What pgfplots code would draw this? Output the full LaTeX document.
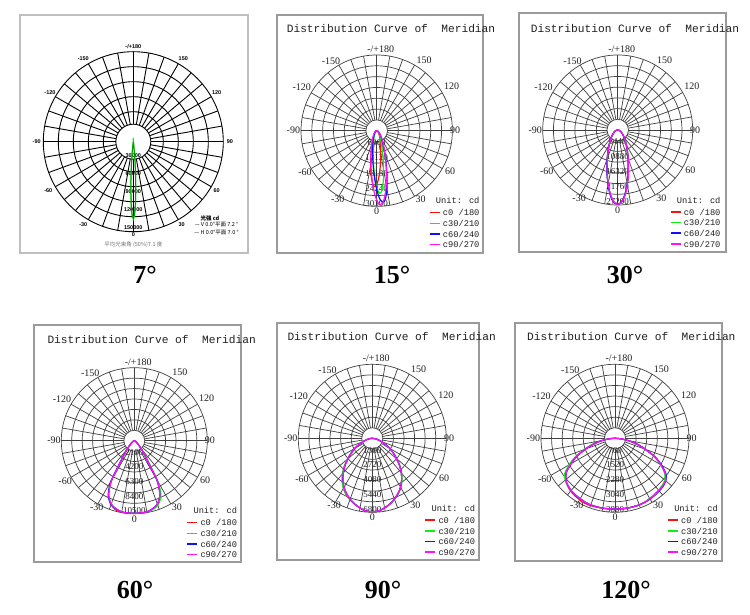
\documentclass[border=0pt]{standalone}
\usepackage{fontspec}
\setmainfont{Liberation Serif}
\newfontfamily\mono{Liberation Mono}
\newfontfamily\lsans{Liberation Sans}
\newfontfamily\cjk{Noto Sans CJK SC}
\usepackage{pgfplots}
\usepackage{pgfplotstable}
\pgfplotsset{compat=1.18}
\definecolor{gridc}{HTML}{404040}
\definecolor{framec}{HTML}{9A9A9A}
\definecolor{cR}{HTML}{FF1010}
\definecolor{cG}{HTML}{10F010}
\definecolor{cB}{HTML}{1010FF}
\definecolor{cM}{HTML}{FF10FF}
\definecolor{txt}{HTML}{202020}

% ---------- panel 1 (7 deg) ----------
\pgfplotstableread{
g I
-180 6500
-175 3000
-170 0
-15 0
-10 630
-8 4240
-6 19000
-5 34200
-4 55300
-3 80300
-2 104900
-1 123200
0 130000
1 123200
2 104900
3 80300
4 55300
5 34200
6 19000
8 4240
10 630
15 0
170 0
175 3000
180 6500
}\tabAV
\pgfplotstableread{
g I
-15 0
-10 500
-8 3600
-6 17300
-5 31800
-4 52500
-3 77500
-2 102500
-1 121000
0 128000
1 121000
2 102500
3 77500
4 52500
5 31800
6 17300
8 3600
10 500
15 0
}\tabAH
% ---------- panel 2 (15 deg) ----------
\pgfplotstableread{
g I
-92 0
-77 200
-62 470
-47 980
-32 2260
-27 3160
-22 4620
-17 7130
-14 9480
-12 11520
-10 13970
-8 16730
-6 19470
-4 21590
-2 22400
0 21590
2 19470
4 16730
6 13970
8 11520
10 9480
13 7130
18 4620
23 3160
28 2260
43 980
58 470
73 200
88 0
}\tabBR
\pgfplotstableread{
g I
-87 0
-72 175
-57 420
-42 870
-27 2040
-22 2880
-17 4270
-12 6750
-9 9190
-7 11410
-5 14210
-3 17550
-1 21070
1 23960
3 25100
5 23960
7 21070
9 17550
11 14210
13 11410
15 9190
18 6750
23 4270
28 2880
33 2040
48 870
63 420
78 175
93 0
}\tabBG
\pgfplotstableread{
g I
-85 0
-70 260
-55 630
-40 1300
-25 3000
-20 4190
-15 6120
-10 9400
-7 12440
-5 15070
-3 18210
-1 21710
1 25150
3 27790
5 28800
7 27790
9 25150
11 21710
13 18210
15 15070
17 12440
20 9400
25 6120
30 4190
35 3000
50 1300
65 630
80 260
95 0
}\tabBB
\pgfplotstableread{
g I
-87 0
-72 340
-57 810
-42 1670
-27 3800
-22 5250
-17 7530
-12 11250
-9 14520
-7 17210
-5 20280
-3 23520
-1 26560
1 28780
3 29600
5 28780
7 26560
9 23520
11 20280
13 17210
15 14520
18 11250
23 7530
28 5250
33 3800
48 1670
63 810
78 340
93 0
}\tabBM
% ---------- panel 3 (30 deg) ----------
\pgfplotstableread{
g I
-90 0
-80 400
-70 850
-60 1440
-50 2300
-45 2900
-40 3690
-35 4730
-30 6170
-25 8170
-20 11000
-15 14900
-12.5 17290
-10 19870
-7.5 22470
-5 24780
-2.5 26370
0 26960
2.5 26370
5 24780
7.5 22470
10 19870
12.5 17290
15 14900
20 11000
25 8170
30 6170
35 4730
40 3690
45 2900
50 2300
60 1440
70 850
80 400
90 0
}\tabC
\pgfplotstableread{
g I
-90 0
-80 410
-70 870
-60 1470
-50 2340
-45 2950
-40 3750
-35 4800
-30 6270
-25 8300
-20 11170
-15 15120
-12.5 17550
-10 20170
-7.5 22800
-5 25150
-2.5 26600
0 27000
2.5 26370
5 24780
7.5 22470
10 19870
12.5 17290
15 14900
20 11000
25 8170
30 6170
35 4730
40 3690
45 2900
50 2300
60 1440
70 850
80 400
90 0
}\tabCB
\pgfplotstableread{
g I
-90 0
-80 400
-70 850
-60 1440
-50 2300
-45 2900
-40 3690
-35 4730
-30 6170
-25 8170
-20 11000
-15 14900
-12.5 17290
-10 19870
-7.5 22470
-5 24780
-2.5 26370
0 26960
2.5 26500
5 25000
7.5 22700
10 20100
12.5 17500
15 15080
20 11130
25 8260
30 6240
35 4780
40 3730
45 2930
50 2320
60 1450
70 860
80 400
90 0
}\tabCM
% ---------- panel 4 (60 deg) ----------
\pgfplotstableread{
g I
-90 0
-80 30
-70 100
-60 250
-50 550
-45 880
-40 1600
-35 2800
-32 4300
-30 6500
-28 7550
-25 8750
-20 9800
-15 10300
-10 10450
-5 10480
0 10470
5 10430
10 10400
15 10150
20 9700
25 8700
28 7500
30 6500
32 4300
35 2800
40 1600
45 880
50 550
60 250
70 100
80 30
90 0
}\tabDR
\pgfplotstableread{
g I
-90 0
-80 30
-70 100
-60 250
-50 550
-45 880
-40 1600
-35 2800
-32 4300
-30 6500
-28 7500
-25 8700
-20 9700
-15 10150
-10 10400
-5 10430
0 10450
5 10430
10 10420
15 10250
20 9900
25 9000
28 7900
30 6900
32 4700
35 2950
40 1650
45 900
50 560
60 250
70 100
80 30
90 0
}\tabDG
\pgfplotstableread{
g I
-90 0
-80 30
-70 100
-60 250
-50 560
-45 900
-40 1650
-35 2900
-32 4450
-30 6650
-28 7700
-25 8850
-20 9750
-15 10150
-10 10400
-5 10430
0 10450
5 10430
10 10400
15 10150
20 9700
25 8700
28 7500
30 6500
32 4300
35 2800
40 1600
45 880
50 550
60 250
70 100
80 30
90 0
}\tabDB
\pgfplotstableread{
g I
-90 0
-80 30
-70 100
-60 250
-50 550
-45 880
-40 1600
-35 2800
-32 4300
-30 6500
-28 7500
-25 8700
-20 9700
-15 10150
-10 10400
-5 10430
0 10450
5 10430
10 10400
15 10150
20 9700
25 8700
28 7500
30 6500
32 4300
35 2800
40 1600
45 880
50 550
60 250
70 100
80 30
90 0
}\tabDM
% ---------- panel 5 (90 deg) ----------
\pgfplotstableread{
g I
-90 0
-85 150
-80 350
-75 600
-70 890
-65 1350
-60 1850
-55 2350
-50 2950
-45 3620
-40 4250
-35 4800
-30 5300
-25 5700
-20 6000
-15 6270
-10 6510
-5 6710
0 6750
5 6700
10 6500
15 6250
20 5950
25 5600
30 5200
35 4700
40 4150
45 3550
50 2900
55 2350
60 1850
65 1350
70 890
75 600
80 350
85 150
90 0
}\tabER
\pgfplotstableread{
g I
-90 0
-85 150
-80 350
-75 610
-70 900
-65 1380
-60 1900
-55 2420
-50 3000
-45 3650
-40 4280
-35 4830
-30 5320
-25 5680
-20 5980
-15 6260
-10 6500
-5 6700
0 6740
5 6700
10 6500
15 6260
20 5970
25 5630
30 5240
35 4750
40 4200
45 3600
50 2930
55 2370
60 1860
65 1350
70 890
75 600
80 350
85 150
90 0
}\tabEG
\pgfplotstableread{
g I
-90 0
-85 150
-80 350
-75 600
-70 890
-65 1350
-60 1850
-55 2350
-50 2900
-45 3550
-40 4150
-35 4700
-30 5200
-25 5600
-20 5950
-15 6250
-10 6500
-5 6700
0 6740
5 6700
10 6500
15 6250
20 5950
25 5600
30 5200
35 4700
40 4150
45 3550
50 2900
55 2350
60 1850
65 1350
70 890
75 600
80 350
85 150
90 0
}\tabE
% ---------- panel 6 (120 deg) ----------
\pgfplotstableread{
g I
-90 0
-85 300
-80 700
-75 1150
-70 1600
-65 2150
-60 2600
-55 3050
-50 3300
-45 3450
-40 3540
-35 3600
-30 3640
-25 3680
-20 3680
-15 3660
-10 3650
-5 3640
0 3630
5 3635
10 3640
15 3640
20 3640
25 3620
30 3580
35 3550
40 3500
45 3460
50 3380
55 3150
60 2720
65 2250
70 1650
75 1180
80 710
85 300
90 0
}\tabFR
\pgfplotstableread{
g I
-90 0
-85 310
-80 720
-75 1200
-70 1680
-65 2250
-60 2720
-55 3150
-50 3340
-45 3440
-40 3500
-35 3550
-30 3580
-25 3620
-20 3640
-15 3640
-10 3640
-5 3635
0 3630
5 3635
10 3640
15 3640
20 3640
25 3610
30 3560
35 3520
40 3470
45 3420
50 3340
55 3110
60 2680
65 2220
70 1630
75 1160
80 700
85 300
90 0
}\tabFG
\pgfplotstableread{
g I
-90 0
-85 300
-80 700
-75 1150
-70 1600
-65 2150
-60 2600
-55 3050
-50 3300
-45 3420
-40 3500
-35 3550
-30 3580
-25 3620
-20 3640
-15 3640
-10 3640
-5 3635
0 3630
5 3635
10 3640
15 3640
20 3640
25 3630
30 3600
35 3570
40 3530
45 3490
50 3400
55 3200
60 2760
65 2280
70 1680
75 1200
80 720
85 300
90 0
}\tabFB
\pgfplotstableread{
g I
-90 0
-85 300
-80 700
-75 1150
-70 1600
-65 2150
-60 2600
-55 3050
-50 3300
-45 3420
-40 3500
-35 3550
-30 3580
-25 3620
-20 3640
-15 3640
-10 3640
-5 3635
0 3630
5 3635
10 3640
15 3640
20 3640
25 3620
30 3580
35 3550
40 3500
45 3460
50 3380
55 3150
60 2720
65 2250
70 1650
75 1180
80 710
85 300
90 0
}\tabFM

% polar grid: cx cy R
\newcommand{\pgrid}[3]{%
  \begin{scope}[shift={(#1,#2)}]
    \foreach \k in {1,...,7} {\draw[gridc,line width=0.7bp] (0,0) circle[radius={\k*#3/7}];}
    \foreach \a in {0,10,...,350} {\draw[gridc,line width=0.7bp] (\a:{#3/7}) -- (\a:#3);}
  \end{scope}}
% angle labels: cx cy scale
\newcommand{\alabels}[3]{%
  \begin{scope}[shift={(#1,#2)},every node/.style={text=txt,font={\fontsize{10bp}{11bp}\selectfont},inner sep=0pt}]
    \node at ({4*#3},{81.3*#3}) {-/+180};
    \node at ({-45.7*#3},{69.7*#3}) {-150};
    \node at ({47.3*#3},{70.7*#3}) {150};
    \node at ({-75*#3},{43*#3}) {-120};
    \node at ({75*#3},{44*#3}) {120};
    \node at ({-83.3*#3},0) {-90};
    \node at ({78.3*#3},0) {90};
    \node at ({-71.7*#3},{-42*#3}) {-60};
    \node at ({73.3*#3},{-41*#3}) {60};
    \node at ({-39*#3},{-68.7*#3}) {-30};
    \node at ({44*#3},{-68.7*#3}) {30};
    \node at (0,{-81*#3}) {0};
  \end{scope}}
% value labels: cx cy R v1..v5
\newcommand{\vlabels}[8]{%
  \begin{scope}[shift={(#1,#2)},every node/.style={text=txt,font={\fontsize{9bp}{10bp}\selectfont},inner sep=0pt,anchor=base}]
    \node at (0,{-1*#3/5}) {#4};
    \node at (0,{-2*#3/5}) {#5};
    \node at (0,{-3*#3/5}) {#6};
    \node at (0,{-4*#3/5}) {#7};
    \node at (0,{-5*#3/5}) {#8};
  \end{scope}}
% legend: cx cy
\newcommand{\mlegend}[2]{%
  \begin{scope}[shift={(#1,#2)},every node/.style={text=txt,font={\mono\fontsize{8.7bp}{10bp}\selectfont},inner sep=0pt}]
    \node at (81,-70) {Unit: cd};
    \draw[cR,line width=1.6bp] (53,-82) -- (63,-82);
    \node[anchor=west] at (66,-82) {c0 /180};
    \draw[cG,line width=1.6bp] (53,-92.7) -- (63,-92.7);
    \node[anchor=west] at (66,-92.7) {c30/210};
    \draw[cB,line width=1.6bp] (53,-103.3) -- (63,-103.3);
    \node[anchor=west] at (66,-103.3) {c60/240};
    \draw[cM,line width=1.6bp] (53,-114) -- (63,-114);
    \node[anchor=west] at (66,-114) {c90/270};
  \end{scope}}
% polar curve: style cx cy k table
\newcommand{\pplot}[5]{%
  \addplot[#1,line width=1.2bp,smooth,no markers] table[x expr={#2+#4*\thisrow{I}*sin(\thisrow{g})}, y expr={#3-#4*\thisrow{I}*cos(\thisrow{g})}] {#5};}

\begin{document}
\begin{tikzpicture}[x=1bp,y=1bp]
\path[use as bounding box] (0,0) rectangle (750,615);
\fill[white] (0,0) rectangle (750,615);

% frames
\draw[black!25,line width=1.2bp] (20,362) rectangle (248,600);
\draw[framec,line width=1.1bp] (277,362) rectangle (483,600);
\draw[framec,line width=1.1bp] (519,363) rectangle (726,602);
\draw[framec,line width=1.1bp] (34,53) rectangle (241,290);
\draw[framec,line width=1.1bp] (277,55) rectangle (479,292);
\draw[framec,line width=1.1bp] (515,54) rectangle (722,292);

% ---- panel 1 grid ----
\begin{scope}[shift={(133.3,473.3)}]
  \foreach \r in {17.5,30,45,60,75,90} {\draw[black,line width=0.9bp] (0,0) circle[radius=\r];}
  \foreach \a in {0,10,...,350} {\draw[black,line width=0.9bp] (\a:17.5) -- (\a:90);}
  \begin{scope}[every node/.style={font={\lsans\bfseries\fontsize{5.5bp}{6bp}\selectfont},inner sep=0pt}]
    \node at (0,95) {-/+180};
    \node at (-50,83.4) {-150};
    \node at (50,83.4) {150};
    \node at (-83.3,49.4) {-120};
    \node at (83.3,49.4) {120};
    \node at (-96.6,0) {-90};
    \node at (96.6,0) {90};
    \node at (-85,-49.3) {-60};
    \node at (83.3,-49.3) {60};
    \node at (-50,-83.3) {-30};
    \node at (48.3,-83.3) {30};
    \node at (0,-93.3) {0};
    \node at (0,-14) {30000};
    \node at (0,-31.7) {60000};
    \node at (0,-50) {90000};
    \node at (0,-68.3) {120000};
    \node at (0,-86) {150000};
  \end{scope}
\end{scope}

% ---- panels 2-6 grids ----
\pgrid{376.7}{484.3}{75.7}
\pgrid{617.7}{485}{75}
\pgrid{134.3}{174.3}{73}
\pgrid{372.3}{176.7}{74}
\pgrid{615}{176.7}{74}

\alabels{376.7}{484.3}{1}
\alabels{617.7}{485}{0.99}
\alabels{134.3}{174.3}{0.965}
\alabels{372.3}{176.7}{0.98}
\alabels{615}{176.7}{0.98}

\vlabels{376.7}{484.3}{75.7}{6060}{12120}{18180}{24240}{30300}
\vlabels{617.7}{485}{75}{5440}{10880}{16320}{21760}{27200}
\vlabels{134.3}{174.3}{73}{2100}{4200}{6300}{8400}{10500}
\vlabels{372.3}{176.7}{74}{1360}{2720}{4080}{5440}{6800}
\vlabels{615}{176.7}{74}{760}{1520}{2280}{3040}{3800}

% titles
\begin{scope}[every node/.style={text=txt,font={\mono\fontsize{11.2bp}{13bp}\selectfont},inner sep=0pt}]
  \node at (391,586) {Distribution Curve of\ \ Meridian};
  \node at (635,586.7) {Distribution Curve of\ \ Meridian};
  \node at (151.7,275.7) {Distribution Curve of\ \ Meridian};
  \node at (391.7,278.3) {Distribution Curve of\ \ Meridian};
  \node at (631.3,278.3) {Distribution Curve of\ \ Meridian};
\end{scope}

% ---- curves ----
\begin{axis}[at={(0,0)},anchor=origin,x=1bp,y=1bp,xmin=0,xmax=750,ymin=0,ymax=615,hide axis,clip=false]
  \addplot[cG,line width=1bp,no markers] table[x expr={133.3+0.0006*\thisrow{I}*sin(\thisrow{g})}, y expr={473.3-0.0006*\thisrow{I}*cos(\thisrow{g})}] {\tabAV};
  \addplot[green!60!black,line width=1bp,no markers] table[x expr={133.3+0.0006*\thisrow{I}*sin(\thisrow{g})}, y expr={473.3-0.0006*\thisrow{I}*cos(\thisrow{g})}] {\tabAH};

  \pplot{cR}{376.7}{484.3}{0.0024983}{\tabBR}
  \pplot{cG}{376.7}{484.3}{0.0024983}{\tabBG}
  \pplot{cB}{376.7}{484.3}{0.0024983}{\tabBB}
  \pplot{cM}{376.7}{484.3}{0.0024983}{\tabBM}

  \pplot{cR}{617.7}{485}{0.0027574}{\tabC}
  \pplot{cG}{617.7}{485}{0.0027574}{\tabC}
  \pplot{cB}{617.7}{485}{0.0027574}{\tabCB}
  \pplot{cM}{617.7}{485}{0.0027574}{\tabCM}

  \pplot{cR}{134.3}{174.3}{0.0069524}{\tabDR}
  \pplot{cG}{134.3}{174.3}{0.0069524}{\tabDG}
  \pplot{cB}{134.3}{174.3}{0.0069524}{\tabDB}
  \pplot{cM}{134.3}{174.3}{0.0069524}{\tabDM}

  \pplot{cR}{372.3}{176.7}{0.010882}{\tabER}
  \pplot{cG}{372.3}{176.7}{0.010882}{\tabEG}
  \pplot{cB}{372.3}{176.7}{0.010882}{\tabE}
  \pplot{cM}{372.3}{176.7}{0.010882}{\tabE}

  \pplot{cR}{615}{176.7}{0.019474}{\tabFR}
  \pplot{cG}{615}{176.7}{0.019474}{\tabFG}
  \pplot{cB}{615}{176.7}{0.019474}{\tabFB}
  \pplot{cM}{615}{176.7}{0.019474}{\tabFM}
\end{axis}

% legends
\mlegend{376.7}{484.3}
\mlegend{617.7}{485}
\mlegend{134.3}{174.3}
\mlegend{372.3}{176.7}
\mlegend{615}{176.7}

% panel 1 legend & footer
\begin{scope}[every node/.style={font={\cjk\fontsize{5.5bp}{6bp}\selectfont},inner sep=0pt}]
  \node at (210,396.7) {\textbf{光强 cd}};
  \node at (216.5,390) {— V 0.0°平面 7.2 °};
  \node at (216.5,382.3) {— H 0.0°平面 7.0 °};
  \node[text=black!55] at (133.3,370.7) {平均光束角 (50\%)7.1 度};
\end{scope}

% bottom captions
\begin{scope}[every node/.style={font={\bfseries\fontsize{26bp}{30bp}\selectfont},inner sep=0pt}]
  \node at (145,340) {7°};
  \node at (392,340) {15°};
  \node at (625,340) {30°};
  \node at (135,25) {60°};
  \node at (383,25) {90°};
  \node at (626,25) {120°};
\end{scope}
\end{tikzpicture}
\end{document}
